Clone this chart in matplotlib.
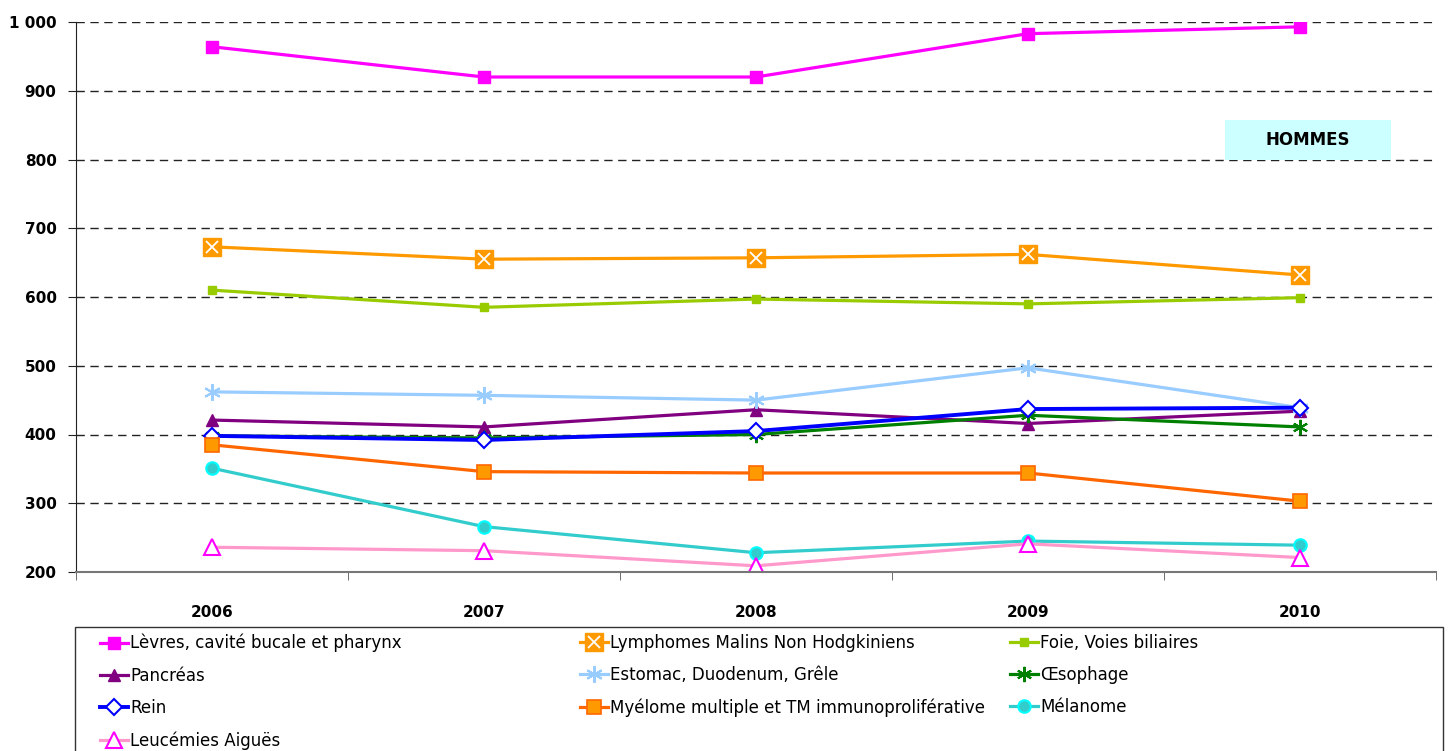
import matplotlib
matplotlib.use('Agg')
import matplotlib.pyplot as plt
from matplotlib.patches import Rectangle
from matplotlib.ticker import FixedLocator, FuncFormatter
from matplotlib.legend_handler import HandlerTuple

# ==================== 数据 ====================
annees = ['2006', '2007', '2008', '2009', '2010']

levres = [964, 920, 920, 983, 993]
lymphomes = [673, 655, 657, 662, 632]
foie = [610, 585, 597, 590, 599]
pancreas = [421, 411, 436, 416, 434]
estomac = [462, 457, 450, 497, 439]
oesophage = [398, 395, 400, 428, 411]
rein = [398, 392, 405, 437, 439]
myelome = [385, 346, 344, 344, 303]
melanome = [351, 266, 228, 245, 239]
leucemies = [236, 231, 209, 241, 221]

x = list(range(len(annees)))

# ==================== 图 ====================
fig = plt.figure(figsize=(14.5, 7.51), dpi=100)
ax = fig.add_axes([76 / 1450, 1 - 572 / 751, 1360 / 1450, 550 / 751])

lw = 2.3
h = {}
h['levres'], = ax.plot(x, levres, color='#FF00FF', lw=lw, marker='s', ms=9,
                       mfc='#FF00FF', mec='#FF00FF')
l_sq, = ax.plot(x, lymphomes, color='#FF9900', lw=lw, marker='s', ms=13,
                mfc='#FF9900', mec='#FF9900')
l_x, = ax.plot(x, lymphomes, ls='none', marker='x', ms=9, mew=1.3, color='white')
h['lymphomes'] = (l_sq, l_x)
h['foie'], = ax.plot(x, foie, color='#99CC00', lw=lw, marker='s', ms=6,
                     mfc='#99CC00', mec='#99CC00')
h['pancreas'], = ax.plot(x, pancreas, color='#800080', lw=lw, marker='^', ms=9,
                         mfc='#800080', mec='#800080')
h['estomac'], = ax.plot(x, estomac, color='#99CCFF', lw=lw, marker=(6, 2, 0), ms=12,
                        mew=1.5, mec='#99CCFF')
h['oesophage'], = ax.plot(x, oesophage, color='#008000', lw=lw, marker=(6, 2, 0), ms=11,
                          mew=1.5, mec='#008000')
h['rein'], = ax.plot(x, rein, color='#0000FF', lw=lw + 0.5, marker='D', ms=8,
                     mfc='white', mec='#0000FF', mew=1.5)
h['myelome'], = ax.plot(x, myelome, color='#FF6600', lw=lw, marker='s', ms=10,
                        mfc='#FF9900', mec='#FF6600', mew=1.2)
h['melanome'], = ax.plot(x, melanome, color='#33CCCC', lw=lw, marker='o', ms=9,
                         mfc='#33CCCC', mec='#00FFFF', mew=1.5)
h['leucemies'], = ax.plot(x, leucemies, color='#FF99CC', lw=lw, marker='^', ms=11,
                          mfc='white', mec='#FF00FF', mew=1.5)

# 坐标轴
ax.set_xlim(-0.5, len(annees) - 0.5)
ax.set_ylim(200, 1000)
ax.set_yticks(range(200, 1001, 100))
ax.yaxis.set_major_formatter(FuncFormatter(lambda v, p: f'{int(v):,}'.replace(',', ' ')))
ax.set_xticks(x)
ax.set_xticklabels(annees)
ax.xaxis.set_minor_locator(FixedLocator([i - 0.5 for i in range(len(annees) + 1)]))
ax.tick_params(axis='x', which='major', length=0, pad=24)
ax.tick_params(axis='x', which='minor', length=6, direction='out', color='#555555')
ax.tick_params(axis='y', length=6, direction='out', pad=8, color='#222222')
for lab in ax.get_xticklabels() + ax.get_yticklabels():
    lab.set_fontweight('bold')
    lab.set_fontsize(11)

for v in range(300, 1001, 100):
    ax.axhline(v, color='#222222', lw=1, ls=(0, (6, 4)), zorder=0)

ax.spines['top'].set_visible(False)
ax.spines['right'].set_visible(False)
ax.spines['left'].set_color('#222222')
ax.spines['bottom'].set_color('#777777')
ax.spines['bottom'].set_linewidth(1.5)

# HOMMES 标签
fig.add_artist(Rectangle((1225 / 1450, 1 - 160 / 751), 166 / 1450, 40 / 751,
                         transform=fig.transFigure, facecolor='#CCFFFF',
                         edgecolor='none', zorder=3))
fig.text(1308 / 1450, 1 - 140 / 751, 'HOMMES', ha='center', va='center',
         fontsize=12, fontweight='bold', zorder=4)

# ==================== 图例 ====================
fig.add_artist(Rectangle((75 / 1450, -0.05), 1368 / 1450, 0.05 + 1 - 627 / 751,
                         transform=fig.transFigure, facecolor='white',
                         edgecolor='#333333', lw=1))

colonnes = [
    (100, [('levres', 'Lèvres, cavité bucale et pharynx'),
           ('pancreas', 'Pancréas'),
           ('rein', 'Rein'),
           ('leucemies', 'Leucémies Aiguës')]),
    (580, [('lymphomes', 'Lymphomes Malins Non Hodgkiniens'),
           ('estomac', 'Estomac, Duodenum, Grêle'),
           ('myelome', 'Myélome multiple et TM immunoproliférative')]),
    (1010, [('foie', 'Foie, Voies biliaires'),
            ('oesophage', 'Œsophage'),
            ('melanome', 'Mélanome')]),
]
for xpos, items in colonnes:
    leg = fig.legend([h[k] for k, _ in items], [t for _, t in items],
                     loc='upper left', bbox_to_anchor=(xpos / 1450, 1 - 634 / 751),
                     frameon=False, borderpad=0, borderaxespad=0, fontsize=12,
                     handlelength=1.7, handletextpad=0.1, labelspacing=0.85,
                     handler_map={tuple: HandlerTuple(ndivide=1)})

fig.savefig('out.png', dpi=100)
